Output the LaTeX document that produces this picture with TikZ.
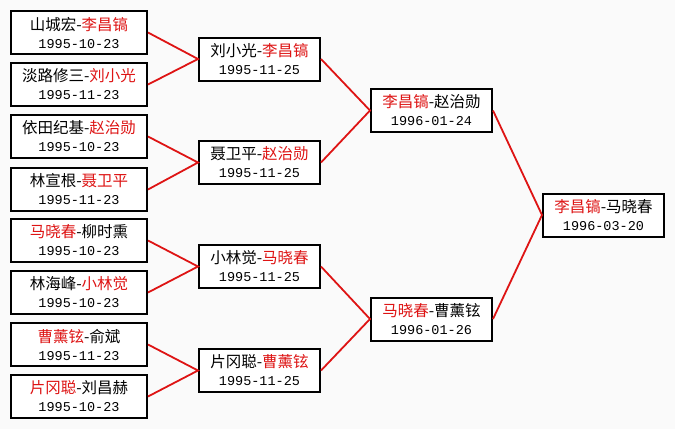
\documentclass[tikz,border=0pt]{standalone}
\usepackage{fontspec}
\setmainfont{Noto Sans CJK SC}
\newfontfamily\datefont{Liberation Mono}
\usetikzlibrary{positioning}

\definecolor{winred}{RGB}{222,20,20}
\newcommand{\win}[1]{\textcolor{winred}{#1}}
\newcommand{\game}[2]{#1\\{\datefont\fontsize{13.5}{18}\selectfont #2}}

\begin{document}
\begin{tikzpicture}[
    x=1pt, y=-1pt,
    every node/.style={font=\fontsize{15.5}{18}\selectfont},
    match/.style={draw, line width=2pt, fill=white, align=center,
        minimum width=121pt, minimum height=43pt, inner sep=0pt},
    first/.style={match, minimum width=136pt},
    link/.style={winred, line width=1.8pt}
]

\useasboundingbox[fill=black!2] (0,0) rectangle (675,429);

% === First round ===
\node[first] (r1a) at (79,32.5)  {\game{山城宏-\win{李昌镐}}{1995-10-23}};
\node[first] (r1b) at (79,84.5)  {\game{淡路修三-\win{刘小光}}{1995-11-23}};
\node[first] (r1c) at (79,136.5) {\game{依田纪基-\win{赵治勋}}{1995-10-23}};
\node[first] (r1d) at (79,189.5) {\game{林宣根-\win{聂卫平}}{1995-11-23}};
\node[first] (r1e) at (79,240.5) {\game{\win{马晓春}-柳时熏}{1995-10-23}};
\node[first] (r1f) at (79,292.5) {\game{林海峰-\win{小林觉}}{1995-10-23}};
\node[first] (r1g) at (79,344.5) {\game{\win{曹薰铉}-俞斌}{1995-11-23}};
\node[first] (r1h) at (79,396.5) {\game{\win{片冈聪}-刘昌赫}{1995-10-23}};

% === Quarter finals ===
\node[match] (r2a) at (259.5,59)    {\game{刘小光-\win{李昌镐}}{1995-11-25}};
\node[match] (r2b) at (259.5,162.5) {\game{聂卫平-\win{赵治勋}}{1995-11-25}};
\node[match] (r2c) at (259.5,266.5) {\game{小林觉-\win{马晓春}}{1995-11-25}};
\node[match] (r2d) at (259.5,370.5) {\game{片冈聪-\win{曹薰铉}}{1995-11-25}};

% === Semi finals ===
\node[match] (r3a) at (431.5,110.5) {\game{\win{李昌镐}-赵治勋}{1996-01-24}};
\node[match] (r3b) at (431.5,319)   {\game{\win{马晓春}-曹薰铉}{1996-01-26}};

% === Final ===
\node[match] (fin) at (603.5,215) {\game{\win{李昌镐}-马晓春}{1996-03-20}};

% Connectors
\draw[link] (r1a.east) -- (r2a.west) -- (r1b.east);
\draw[link] (r1c.east) -- (r2b.west) -- (r1d.east);
\draw[link] (r1e.east) -- (r2c.west) -- (r1f.east);
\draw[link] (r1g.east) -- (r2d.west) -- (r1h.east);
\draw[link] (r2a.east) -- (r3a.west) -- (r2b.east);
\draw[link] (r2c.east) -- (r3b.west) -- (r2d.east);
\draw[link] (r3a.east) -- (fin.west) -- (r3b.east);

\end{tikzpicture}
\end{document}
